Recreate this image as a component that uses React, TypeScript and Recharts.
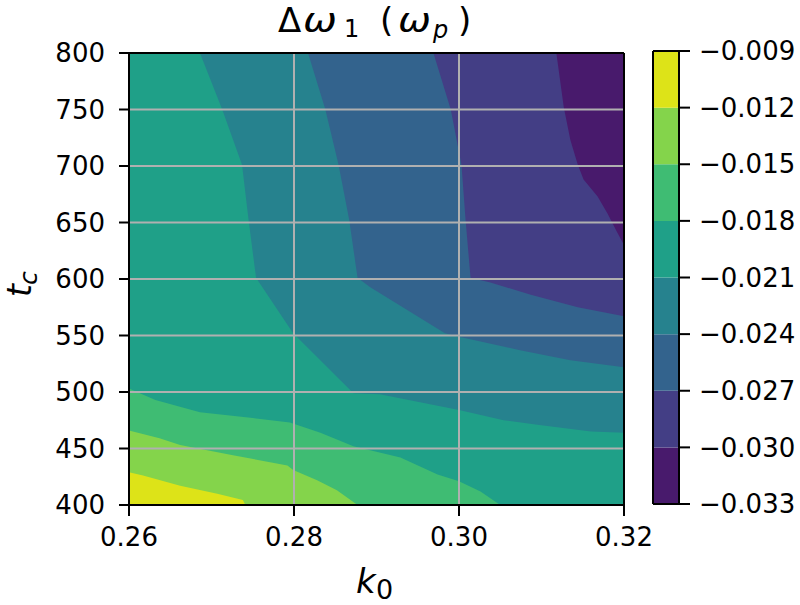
import React from 'react';
import { ComposedChart, Area, XAxis, YAxis, ReferenceLine } from 'recharts';

// axis ticks
const kTicks = [0.26, 0.28, 0.3, 0.32];
const tTicks = [400, 450, 500, 550, 600, 650, 700, 750, 800];

// contour levels of the colorbar and the fill colour of each band (lowest first)
const levels = [-0.033, -0.03, -0.027, -0.024, -0.021, -0.018, -0.015, -0.012, -0.009];
const bandColors = ['#481a6c', '#433e85', '#33638d', '#26828e', '#1fa088', '#3fbc73', '#84d44b', '#dde318'];

// contour boundaries as [k0, tc]; the field is >= level below each line
const contourBase = [[0.26, 800], [0.32, 800]];
const contour030 = [[0.26, 800], [0.3118, 800], [0.3127, 752], [0.3135, 723], [0.3144, 701], [0.3151, 688], [0.3168, 673], [0.318, 658], [0.3192, 641], [0.32, 630]];
const contour027 = [[0.26, 800], [0.2969, 800], [0.299, 750], [0.3003, 701], [0.3008, 652], [0.3014, 601], [0.3038, 597], [0.3087, 586], [0.3144, 575], [0.32, 567]];
const contour024 = [[0.26, 800], [0.2817, 800], [0.2838, 750], [0.2854, 701], [0.2867, 652], [0.2877, 601], [0.2892, 593], [0.2983, 552], [0.3, 549], [0.3074, 537], [0.3135, 528], [0.32, 522]];
const contour021 = [[0.26, 800], [0.2686, 800], [0.2713, 750], [0.2737, 701], [0.2745, 652], [0.2754, 601], [0.2756, 599], [0.2799, 552], [0.2872, 499], [0.2904, 498], [0.3, 484], [0.3054, 475], [0.3095, 471], [0.316, 465], [0.32, 464]];
const contour018 = [[0.26, 503], [0.2632, 493], [0.2686, 482], [0.275, 477], [0.2795, 473], [0.2832, 464], [0.2872, 452], [0.2929, 442], [0.2974, 427], [0.3, 421], [0.3026, 412], [0.305, 400], [0.32, 400]];
const contour015 = [[0.26, 466], [0.2637, 459], [0.2662, 453], [0.2726, 444], [0.2792, 435], [0.2799, 431], [0.2828, 422], [0.2852, 413], [0.2877, 400], [0.32, 400]];
const contour012 = [[0.26, 429], [0.2617, 426], [0.2662, 417], [0.2707, 410], [0.2738, 404.5], [0.2741, 400], [0.32, 400]];

const contours = [contourBase, contour030, contour027, contour024, contour021, contour018, contour015, contour012];

// one table for the chart: every k0 used by any boundary, with each boundary's value where it has one
const buildTable = () => {
  const rows: Record<number, any> = {};
  contours.forEach((c, i) => {
    c.forEach(([k, t]) => {
      if (!rows[k]) rows[k] = { k };
      rows[k]['c' + i] = t;
    });
  });
  return Object.values(rows).sort((a: any, b: any) => a.k - b.k);
};
const table = buildTable();

// colorbar: two rows (left/right edge) holding each band as a [lo, hi] range
const colorbarRows = [0, 1].map((x) => {
  const row: any = { x };
  bandColors.forEach((_, i) => {
    row['b' + i] = [levels[i], levels[i + 1]];
  });
  return row;
});

const FONT = '"DejaVu Sans", sans-serif';
const tickStyle = { fontSize: 26, fill: '#000', fontFamily: FONT };
const fmtLevel = (v: number) => (v < 0 ? '\u2212' : '') + Math.abs(v).toFixed(3);

export default function App() {
  return (
    <div style={{ position: 'absolute', left: 0, top: 0, width: 800, height: 605, background: '#fff', fontFamily: FONT, overflow: 'hidden' }}>
      <div style={{ position: 'absolute', left: 0, top: 0 }}>
        <ComposedChart width={680} height={560} data={table} margin={{ top: 53, right: 56, bottom: 0, left: 0 }}>
          <XAxis
            dataKey="k"
            type="number"
            domain={[0.26, 0.32]}
            ticks={kTicks}
            allowDataOverflow
            tickFormatter={(v: number) => v.toFixed(2)}
            tick={tickStyle}
            tickSize={11}
            tickMargin={12}
            height={55}
            axisLine={{ stroke: '#000', strokeWidth: 2 }}
            tickLine={{ stroke: '#000', strokeWidth: 2 }}
          />
          <YAxis
            type="number"
            domain={[400, 800]}
            ticks={tTicks}
            allowDataOverflow
            interval={0}
            tick={tickStyle}
            tickSize={10}
            tickMargin={14}
            width={129}
            axisLine={{ stroke: '#000', strokeWidth: 2 }}
            tickLine={{ stroke: '#000', strokeWidth: 2 }}
          />
          {contours.map((_, i) => (
            <Area
              key={i}
              dataKey={'c' + i}
              type="linear"
              connectNulls
              baseValue="dataMin"
              stroke="none"
              fill={bandColors[i]}
              fillOpacity={1}
              dot={false}
              activeDot={false}
              isAnimationActive={false}
            />
          ))}
          {kTicks.slice(1, -1).map((k) => (
            <ReferenceLine key={'gx' + k} x={k} stroke="#b0b0b0" strokeWidth={2} />
          ))}
          {tTicks.slice(1, -1).map((t) => (
            <ReferenceLine key={'gy' + t} y={t} stroke="#b0b0b0" strokeWidth={2} />
          ))}
          <ReferenceLine y={800} stroke="#000" strokeWidth={2} />
          <ReferenceLine x={0.32} stroke="#000" strokeWidth={2} />
        </ComposedChart>
      </div>

      <div style={{ position: 'absolute', left: 600, top: 0 }}>
        <ComposedChart width={200} height={560} data={colorbarRows} margin={{ top: 51, right: 0, bottom: 56, left: 53 }}>
          <XAxis dataKey="x" type="number" domain={[0, 1]} hide />
          <YAxis
            orientation="right"
            type="number"
            domain={[-0.033, -0.009]}
            ticks={levels}
            allowDataOverflow
            interval={0}
            tickFormatter={fmtLevel}
            tick={tickStyle}
            tickSize={11}
            tickMargin={9}
            width={121}
            axisLine={{ stroke: '#000', strokeWidth: 2 }}
            tickLine={{ stroke: '#000', strokeWidth: 2 }}
          />
          {bandColors.map((c, i) => (
            <Area
              key={i}
              dataKey={'b' + i}
              type="linear"
              stroke="none"
              fill={c}
              fillOpacity={1}
              dot={false}
              activeDot={false}
              isAnimationActive={false}
            />
          ))}
          <ReferenceLine x={0} stroke="#000" strokeWidth={2} />
          <ReferenceLine y={-0.009} stroke="#000" strokeWidth={2} />
          <ReferenceLine y={-0.033} stroke="#000" strokeWidth={2} />
        </ComposedChart>
      </div>

      <svg width={800} height={605} style={{ position: 'absolute', left: 0, top: 0, pointerEvents: 'none' }} fontFamily={FONT} fill="#000">
        <text x={278} y={32} fontSize={34}>Δ</text>
        <text x={303} y={32} fontSize={34} fontStyle="italic" textLength={34} lengthAdjust="spacingAndGlyphs">ω</text>
        <text x={344} y={37} fontSize={24}>1</text>
        <text x={380} y={32} fontSize={34}>(</text>
        <text x={398} y={32} fontSize={34} fontStyle="italic" textLength={33} lengthAdjust="spacingAndGlyphs">ω</text>
        <text x={433} y={38} fontSize={24} fontStyle="italic">p</text>
        <text x={458} y={32} fontSize={34}>)</text>

        <text x={356} y={593} fontSize={34} fontStyle="italic">k</text>
        <text x={376} y={599} fontSize={27}>0</text>

        <g transform="translate(31, 297) rotate(-90)">
          <text x={0} y={0} fontSize={33} fontStyle="italic">t</text>
          <text x={12} y={6} fontSize={25} fontStyle="italic">c</text>
        </g>
      </svg>
    </div>
  );
}
